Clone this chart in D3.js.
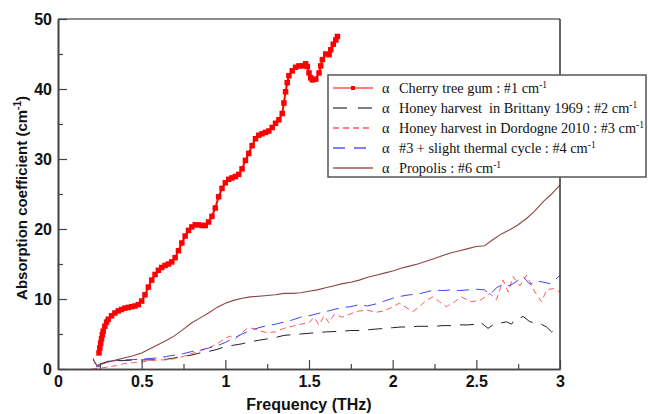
<!DOCTYPE html>
<html><head><meta charset="utf-8">
<script src="https://cdn.jsdelivr.net/npm/d3@7"></script>
<style>body{margin:0;background:#fff}svg{display:block}</style>
</head><body>
<svg id="c" width="648" height="414"></svg>
<script>
// ---- data ----
const cherryF = [0.245,0.25,0.255,0.26,0.265,0.27,0.28,0.29,0.30,0.32,0.34,0.36,0.38,0.40,0.42,0.44,0.46,0.48,0.50,0.52,0.54,0.56,0.58,0.60,0.62,0.64,0.66,0.68,0.70,0.72,0.74,0.76,0.78,0.80,0.82,0.84,0.86,0.88,0.90,0.92,0.94,0.96,0.98,1.00,1.02,1.04,1.06,1.08,1.10,1.12,1.14,1.16,1.18,1.20,1.22,1.24,1.26,1.28,1.30,1.32,1.34,1.35,1.36,1.37,1.38,1.40,1.42,1.44,1.46,1.48,1.49,1.50,1.51,1.52,1.54,1.56,1.57,1.58,1.60,1.62,1.63,1.645,1.66,1.67];
const cherryA = [2.3,3.0,3.7,4.3,4.9,5.4,6.1,6.7,7.1,7.6,8.0,8.3,8.5,8.7,8.8,8.9,9.0,9.2,9.7,10.6,11.7,12.7,13.5,14.1,14.5,14.8,15.0,15.3,15.9,16.9,18.0,19.0,19.8,20.3,20.6,20.6,20.5,20.5,21.0,21.8,23.0,24.6,25.8,26.6,27.1,27.3,27.5,27.8,28.6,29.8,30.8,31.9,32.9,33.4,33.6,33.8,34.0,34.5,35.1,35.6,36.5,38.0,39.6,40.9,41.9,42.6,43.1,43.3,43.3,43.6,43.2,42.3,41.6,41.3,41.4,42.3,43.3,44.2,45.0,44.9,45.6,46.4,47.0,47.5];

const brittanyF = [0.23,0.25,0.30,0.35,0.40,0.45,0.50,0.55,0.60,0.65,0.70,0.75,0.80,0.85,0.90,0.95,1.00,1.05,1.10,1.15,1.20,1.25,1.30,1.35,1.40,1.45,1.50,1.55,1.60,1.65,1.70,1.75,1.80,1.85,1.90,1.95,2.00,2.05,2.10,2.15,2.20,2.25,2.30,2.35,2.40,2.45,2.50,2.52,2.55,2.57,2.61,2.65,2.68,2.71,2.73,2.76,2.78,2.82,2.85,2.88,2.92,2.95,2.97,3.00];
const brittanyA = [0.3,0.7,1.1,1.2,1.2,1.3,1.3,1.3,1.35,1.4,1.6,1.8,2.0,2.3,2.5,2.8,3.2,3.4,3.6,3.9,4.1,4.3,4.5,4.8,4.9,5.0,5.1,5.2,5.3,5.35,5.4,5.5,5.5,5.6,5.7,5.8,5.9,6.0,6.0,6.1,6.1,6.1,6.2,6.2,6.3,6.3,6.4,6.75,6.2,5.8,6.5,6.6,6.75,6.4,7.1,7.3,7.5,6.75,6.6,6.5,6.0,5.3,5.5,5.7];

const dordogneF = [0.20,0.25,0.30,0.35,0.40,0.45,0.50,0.55,0.60,0.65,0.70,0.75,0.80,0.85,0.90,0.95,1.00,1.03,1.06,1.10,1.13,1.17,1.21,1.25,1.30,1.35,1.40,1.45,1.50,1.53,1.56,1.59,1.62,1.65,1.70,1.75,1.80,1.85,1.90,1.95,2.00,2.04,2.08,2.12,2.16,2.20,2.24,2.28,2.32,2.37,2.41,2.47,2.53,2.58,2.62,2.66,2.69,2.72,2.76,2.80,2.85,2.89,2.92,2.96,3.00];
const dordogneA = [0.0,0.1,0.3,0.5,0.8,0.9,1.0,1.2,1.3,1.3,1.5,1.8,2.2,2.6,3.0,3.6,4.4,4.7,4.3,5.2,5.8,5.8,5.4,5.2,5.3,5.8,6.1,6.4,6.6,7.4,6.3,7.6,6.6,7.8,7.4,7.9,8.3,8.4,8.1,8.3,8.9,9.4,8.8,8.2,8.9,9.8,10.3,9.6,8.9,9.6,10.3,9.6,9.9,10.8,9.9,12.7,11.0,13.2,11.9,13.4,11.0,9.6,11.3,11.5,11.0];

const thermalF = [0.21,0.22,0.235,0.25,0.27,0.30,0.35,0.40,0.45,0.50,0.55,0.60,0.65,0.70,0.75,0.80,0.85,0.90,0.95,1.00,1.05,1.10,1.15,1.20,1.25,1.30,1.35,1.40,1.45,1.50,1.55,1.60,1.65,1.70,1.75,1.80,1.85,1.90,1.95,2.00,2.05,2.10,2.15,2.20,2.25,2.30,2.35,2.40,2.45,2.50,2.55,2.58,2.62,2.66,2.70,2.74,2.78,2.82,2.86,2.90,2.94,2.97,3.00];
const thermalA = [1.3,1.0,0.3,0.4,0.9,1.1,1.2,1.3,1.35,1.4,1.5,1.6,1.8,2.0,2.2,2.5,2.7,3.0,3.3,3.8,4.4,5.0,5.5,5.9,6.2,6.4,6.7,7.0,7.4,7.6,7.9,8.2,8.5,8.8,8.9,9.2,9.0,9.3,9.7,10.1,10.4,10.6,10.7,11.0,11.3,11.2,11.3,11.2,11.3,11.4,11.3,10.6,11.6,12.1,11.9,12.5,13.2,12.1,12.6,12.4,12.2,12.7,13.4];

const propolisF = [0.21,0.22,0.235,0.25,0.30,0.35,0.40,0.45,0.50,0.55,0.60,0.65,0.70,0.75,0.80,0.85,0.90,0.95,1.00,1.05,1.10,1.15,1.20,1.25,1.30,1.35,1.40,1.45,1.50,1.55,1.60,1.65,1.70,1.75,1.80,1.85,1.90,1.95,2.00,2.05,2.10,2.15,2.20,2.25,2.30,2.35,2.40,2.45,2.50,2.55,2.60,2.65,2.70,2.75,2.80,2.85,2.90,2.95,3.00];
const propolisA = [1.5,0.9,0.5,0.6,1.0,1.3,1.6,1.9,2.3,2.9,3.5,4.1,4.8,5.7,6.6,7.3,8.0,8.8,9.4,9.8,10.1,10.3,10.4,10.5,10.6,10.8,10.8,10.9,11.1,11.3,11.6,11.9,12.2,12.4,12.7,13.1,13.4,13.7,14.0,14.4,14.7,15.0,15.4,15.8,16.2,16.6,16.9,17.2,17.5,17.6,18.5,19.3,19.9,20.6,21.5,22.6,23.9,25.0,26.3];

const xTicks = [0,0.5,1,1.5,2,2.5,3];
const xTickLabels = ["0","0.5","1","1.5","2","2.5","3"];
const yTicks = [0,10,20,30,40,50];
const yTickLabels = ["0","10","20","30","40","50"];
const legendLabels = [
  "Cherry tree gum : #1 cm",
  "Honey harvest  in Brittany 1969 : #2 cm",
  "Honey harvest in Dordogne 2010 : #3 cm",
  "#3 + slight thermal cycle : #4 cm",
  "Propolis : #6 cm"
];

// ---- chart ----
const svg = d3.select("#c");
const L = 58, R = 560, T = 19, B = 369;
const x = d3.scaleLinear().domain([0,3]).range([L,R]);
const y = d3.scaleLinear().domain([0,50]).range([B,T]);
const axisCol = "#444";

const zip = (f,a) => f.map((v,i)=>[v,a[i]]);
const line = d3.line().x(d=>x(d[0])).y(d=>y(d[1]));

const series = [
  {d: zip(brittanyF,brittanyA), color:"#222", dash:"14,9", w:1},
  {d: zip(dordogneF,dordogneA), color:"#ff5a5a", dash:"6,4", w:1},
  {d: zip(thermalF,thermalA), color:"#4040ff", dash:"12,7", w:1},
  {d: zip(propolisF,propolisA), color:"#8e4444", dash:null, w:1.1},
];

const g = svg.append("g");
series.forEach(s=>{
  g.append("path").attr("d", line(s.d)).attr("fill","none")
    .attr("stroke", s.color).attr("stroke-width", s.w)
    .attr("stroke-dasharray", s.dash);
});

// cherry tree gum: squares
const cherry = zip(cherryF, cherryA);
g.append("path").attr("d", line(cherry)).attr("fill","none")
  .attr("stroke","#ff0000").attr("stroke-width",2);
g.selectAll("rect.cm").data(cherry).enter().append("rect")
  .attr("x", d=>x(d[0])-2.75).attr("y", d=>y(d[1])-2.75)
  .attr("width",5.5).attr("height",5.5).attr("fill","#ff0000");

// frame
svg.append("line").attr("x1",L).attr("x2",R).attr("y1",T).attr("y2",T).attr("stroke","#666").attr("stroke-width",1.5);
svg.append("line").attr("x1",R).attr("x2",R).attr("y1",T).attr("y2",B).attr("stroke","#333").attr("stroke-width",1.5);

// axes
const xAxis = d3.axisBottom(x).tickValues(xTicks).tickFormat((d,i)=>xTickLabels[i]).tickSizeInner(-9).tickSizeOuter(0).tickPadding(7);
const xMinor = d3.axisBottom(x).tickValues(d3.range(0.25,3,0.5)).tickFormat("").tickSizeInner(-5).tickSizeOuter(0);
const yAxis = d3.axisLeft(y).tickValues(yTicks).tickFormat((d,i)=>yTickLabels[i]).tickSizeInner(-9).tickSizeOuter(0).tickPadding(6);
const yMinor = d3.axisLeft(y).tickValues(d3.range(5,50,10)).tickFormat("").tickSizeInner(-5).tickSizeOuter(0);

function styleAxis(sel){
  sel.select(".domain").attr("stroke",axisCol).attr("stroke-width",1.6);
  sel.selectAll(".tick line").attr("stroke",axisCol).attr("stroke-width",1.2);
  sel.selectAll("text").attr("fill","#111").style("font-family","'Liberation Sans',Arial,sans-serif").style("font-weight","bold").style("font-size","16px");
}
svg.append("g").attr("transform",`translate(0,${B})`).call(xMinor).call(styleAxis);
svg.append("g").attr("transform",`translate(0,${B})`).call(xAxis).call(styleAxis);
svg.append("g").attr("transform",`translate(${L},0)`).call(yMinor).call(styleAxis);
svg.append("g").attr("transform",`translate(${L},0)`).call(yAxis).call(styleAxis);

// axis titles
svg.append("text").attr("x",(L+R)/2).attr("y",410).attr("text-anchor","middle")
  .style("font-family","'Liberation Sans',Arial,sans-serif").style("font-weight","bold").style("font-size","16px").attr("fill","#111")
  .text("Frequency (THz)");
const yt = svg.append("text").attr("transform","translate(27,198) rotate(-90)").attr("text-anchor","middle")
  .style("font-family","'Liberation Sans',Arial,sans-serif").style("font-weight","bold").style("font-size","15px").attr("fill","#111");
yt.append("tspan").text("Absorption coefficient (cm");
yt.append("tspan").attr("dy",-6).style("font-size","10px").text("-1");
yt.append("tspan").attr("dy",6).text(")");

// legend
const lg = svg.append("g");
lg.append("rect").attr("x",328).attr("y",75).attr("width",318).attr("height",102)
  .attr("fill","#fff").attr("stroke","#555").attr("stroke-width",1.5);
const legStyles = [
  {color:"#ff0000", dash:null, marker:true},
  {color:"#000", dash:"14,11", marker:false},
  {color:"#ff0000", dash:"6,4", marker:false},
  {color:"#0000ff", dash:"12,9", marker:false},
  {color:"#800000", dash:null, marker:false},
];
legendLabels.forEach((lab,i)=>{
  const yy = 88 + i*20;
  const st = legStyles[i];
  lg.append("line").attr("x1",333).attr("x2",373).attr("y1",yy).attr("y2",yy)
    .attr("stroke",st.color).attr("stroke-width",1.2).attr("stroke-dasharray",st.dash);
  if(st.marker) lg.append("rect").attr("x",351).attr("y",yy-2).attr("width",4).attr("height",4).attr("fill",st.color);
  const t = lg.append("text").attr("x",382).attr("y",yy+5)
    .style("font-family","'Liberation Serif','Times New Roman',serif").style("font-size","14.3px").style("white-space","pre").attr("fill","#111");
  t.append("tspan").text("α");
  t.append("tspan").attr("x",399).text(lab);
  t.append("tspan").attr("dy",-5).style("font-size","9.5px").text("-1");
});
</script>
</body></html>
